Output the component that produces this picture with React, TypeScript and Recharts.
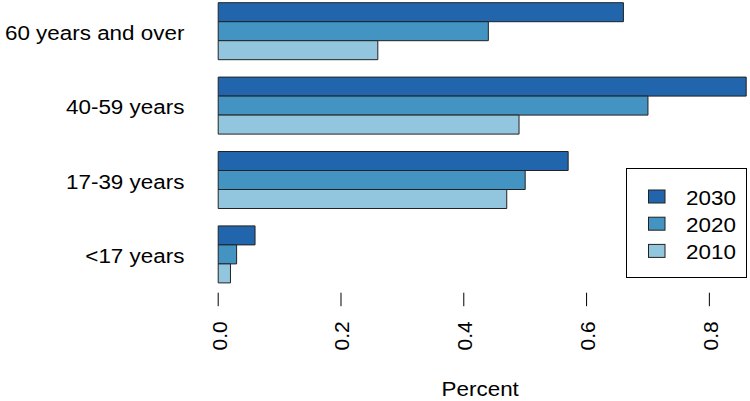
import React from 'react';
import { BarChart, Bar, XAxis, YAxis, Legend, ReferenceLine } from 'recharts';

const categories = ['60 years and over', '40-59 years', '17-39 years', '<17 years'];
const values2030 = [0.66, 0.86, 0.57, 0.06];
const values2020 = [0.44, 0.7, 0.5, 0.03];
const values2010 = [0.26, 0.49, 0.47, 0.02];
const xTicks = [0, 0.2, 0.4, 0.6, 0.8];
const seriesNames = ['2030', '2020', '2010'];
const seriesColors = ['#2166AC', '#4393C3', '#92C5DE'];

const data = categories.map((c, i) => ({
  category: c,
  y2030: values2030[i],
  y2020: values2020[i],
  y2010: values2010[i],
}));
const seriesKeys = ['y2030', 'y2020', 'y2010'];

const FONT = '"Liberation Sans", Arial, Helvetica, sans-serif';
const FS = 21;
const SX = 1.068;

const YTick = (props: any) => {
  const { x, y, payload } = props;
  return (
    <text
      transform={`translate(${x}, ${y + 9.3}) scale(${SX}, 1)`}
      textAnchor="end"
      fontSize={FS}
      fontFamily={FONT}
      fill="#000"
    >
      {payload.value}
    </text>
  );
};

const XTick = (props: any) => {
  const { x, y, payload } = props;
  return (
    <g>
      <line x1={x} y1={y} x2={x} y2={y + 13.5} stroke="#000" strokeWidth={1} />
      <text
        transform={`translate(${x + 8.5}, ${y + 28.5}) rotate(-90)`}
        textAnchor="end"
        fontSize={FS}
        fontFamily={FONT}
        fill="#000"
      >
        {Number(payload.value).toFixed(1)}
      </text>
    </g>
  );
};

const XLabel = (props: any) => {
  const { viewBox } = props;
  const cx = viewBox.x + viewBox.width / 2;
  return (
    <text
      transform={`translate(${cx - 2}, ${viewBox.y + 103.3}) scale(${SX}, 1)`}
      textAnchor="middle"
      fontSize={FS}
      fontFamily={FONT}
      fill="#000"
    >
      Percent
    </text>
  );
};

const LegendBox = (props: any) => {
  const payload = props.payload || [];
  const items = seriesNames.map((n, i) => {
    const p = payload.find((q: any) => q.value === n);
    return { name: n, color: p ? p.color : seriesColors[i] };
  });
  return (
    <svg width={121} height={110} style={{ display: 'block' }}>
      <rect x={0.5} y={0.5} width={120} height={109} fill="#fff" stroke="#000" strokeWidth={1} />
      {items.map((p, i) => (
        <g key={p.name}>
          <rect x={22.5} y={22 + i * 27.2} width={16.5} height={13} fill={p.color} stroke="#222" strokeWidth={1} />
          <text
            transform={`translate(60, ${36.5 + i * 27.2}) scale(${SX}, 1)`}
            fontSize={FS}
            fontFamily={FONT}
            fill="#000"
          >
            {p.name}
          </text>
        </g>
      ))}
    </svg>
  );
};

export default function App() {
  return (
    <div style={{ position: 'absolute', left: 0, top: -10 }}>
      <BarChart
        width={750}
        height={411}
        data={data}
        layout="vertical"
        barGap={0}
        barCategoryGap="12.5%"
        margin={{ top: 3.4, right: 3.8, left: 0, bottom: 48.3 }}
      >
        <XAxis
          type="number"
          domain={[0, 0.86]}
          ticks={xTicks}
          axisLine={false}
          tickLine={false}
          tickSize={0}
          tickMargin={0}
          height={60}
          tick={<XTick />}
          interval={0}
          label={<XLabel />}
        />
        <YAxis
          yAxisId="cat"
          type="category"
          dataKey="category"
          width={218.2}
          axisLine={false}
          tickLine={false}
          tickSize={0}
          tickMargin={33.8}
          padding={{ top: 0, bottom: 1.7 }}
          tick={<YTick />}
          interval={0}
        />
        <YAxis yAxisId="num" type="number" domain={[0, 1]} hide />
        <ReferenceLine
          yAxisId="num"
          segment={[{ x: 0, y: 0 }, { x: 0.8, y: 0 }]}
          stroke="#000"
          strokeWidth={1}
          ifOverflow="visible"
        />
        {seriesKeys.map((k, i) => (
          <Bar
            key={k}
            yAxisId="cat"
            dataKey={k}
            name={seriesNames[i]}
            fill={seriesColors[i]}
            stroke="#222"
            strokeWidth={1}
            isAnimationActive={false}
          />
        ))}
        <Legend
          layout="vertical"
          align="center"
          verticalAlign="middle"
          content={<LegendBox />}
          wrapperStyle={{ position: 'absolute', left: 626, top: 178.3, width: 121, height: 110 }}
        />
      </BarChart>
    </div>
  );
}
